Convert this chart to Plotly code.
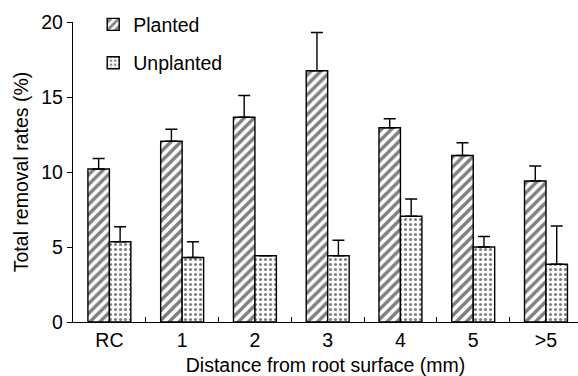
import plotly.graph_objects as go

categories = ["RC", "1", "2", "3", "4", "5", ">5"]
planted = [10.2, 12.05, 13.65, 16.75, 12.95, 11.1, 9.4]
planted_err_top = [10.9, 12.85, 15.1, 19.3, 13.55, 11.95, 10.4]
unplanted = [5.35, 4.3, 4.42, 4.42, 7.05, 5.0, 3.85]
unplanted_err_top = [6.35, 5.35, None, 5.45, 8.2, 5.7, 6.4]

def plus(vals, tops):
    return [None if t is None else round(t - v, 3) for v, t in zip(vals, tops)]

font = "Liberation Sans, Arial, sans-serif"
fs = 19.5

fig = go.Figure()
fig.add_trace(go.Bar(
    x=categories, y=planted, name="Planted", legendgroup="a",
    marker=dict(color="white", line=dict(color="black", width=1.4),
                pattern=dict(shape="/", fgcolor="black", bgcolor="white", size=7, solidity=0.48)),
    error_y=dict(type="data", symmetric=False, array=plus(planted, planted_err_top),
                 arrayminus=[0]*7, color="black", thickness=1.4, width=6),
))
fig.add_trace(go.Bar(
    x=categories, y=unplanted, name="Unplanted", legendgroup="b",
    marker=dict(color="white", line=dict(color="black", width=1.4),
                pattern=dict(shape=".", fgcolor="black", bgcolor="white", size=5, solidity=0.3)),
    error_y=dict(type="data", symmetric=False, array=plus(unplanted, unplanted_err_top),
                 arrayminus=[0]*7, color="black", thickness=1.4, width=6),
))

fig.update_layout(
    width=578, height=376,
    margin=dict(l=73, r=0, t=22, b=54),
    paper_bgcolor="white", plot_bgcolor="white",
    barmode="group", bargap=0.41, bargroupgap=0,
    font=dict(family=font, size=fs, color="black"),
    legend=dict(x=0.04, y=1.056, xanchor="left", yanchor="top",
                font=dict(size=fs), tracegroupgap=10, bgcolor="rgba(0,0,0,0)"),
    xaxis=dict(
        range=[-0.5, 6.44], showline=True, linecolor="black", linewidth=1.4,
        ticks="inside", tickson="boundaries", ticklen=5, tickcolor="black", tickwidth=1.4,
        showgrid=False, zeroline=False, tickfont=dict(size=fs),
        title=dict(text="Distance from root surface (mm)", font=dict(size=fs), standoff=10),
    ),
    yaxis=dict(
        range=[0, 20], tickvals=[0, 5, 10, 15, 20], showline=True, linecolor="black", linewidth=1.4,
        ticks="outside", ticklen=5, tickcolor="black", tickwidth=1.4,
        showgrid=False, zeroline=False, tickfont=dict(size=fs),
        title=dict(text="Total removal rates (%)", font=dict(size=fs), standoff=7),
    ),
)

fig.write_html("out.html")
